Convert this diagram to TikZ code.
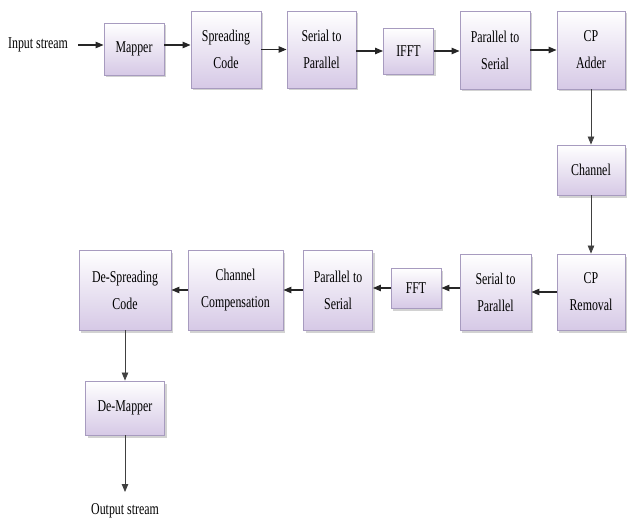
\documentclass[tikz,border=0pt]{standalone}
\usepackage{fontspec}
\setmainfont{Liberation Serif}[FakeStretch=0.72]
\usetikzlibrary{arrows.meta,shadows}
\definecolor{bordercol}{HTML}{A79BBF}
\definecolor{boxbot}{HTML}{D6C9E6}
\tikzset{
  blk/.style={draw=bordercol, line width=0.9pt, top color=white, bottom color=boxbot,
    drop shadow={shadow xshift=2pt, shadow yshift=-2.5pt, fill=black!35},
    align=center, inner sep=0pt, font=\fontsize{16.5}{27}\selectfont},
  lbl/.style={font=\fontsize{16.5}{18}\selectfont, inner sep=0pt},
  arr/.style={-{Triangle[length=8pt,width=6.5pt]}, line width=1.1pt, draw=black!85},
  varr/.style={arr, line width=0.8pt, draw=black!75}
}
\begin{document}
\begin{tikzpicture}[x=1pt,y=-1pt]
\useasboundingbox (0,0) rectangle (627,519);
\node[lbl] (in) at (38,45) {Input stream};
\node[blk, minimum width=60, minimum height=52] (map) at (134,49) {Mapper};
\node[blk, minimum width=70, minimum height=77] (spr) at (226,49.5) {Spreading\\Code};
\node[blk, minimum width=69, minimum height=77] (s2p) at (321.5,49.5) {Serial to\\Parallel};
\node[blk, minimum width=50, minimum height=46] (ifft) at (408.5,51) {IFFT};
\node[blk, minimum width=70, minimum height=78] (p2s) at (495,50) {Parallel to\\Serial};
\node[blk, minimum width=68, minimum height=78] (cpa) at (591,50) {CP\\Adder};
\node[blk, minimum width=68, minimum height=50] (ch) at (591,170) {Channel};
\node[blk, minimum width=68, minimum height=76] (cpr) at (591,292) {CP\\Removal};
\node[blk, minimum width=71, minimum height=76] (s2pb) at (495.5,292) {Serial to\\Parallel};
\node[blk, minimum width=50, minimum height=40] (fft) at (416,288) {FFT};
\node[blk, minimum width=69, minimum height=80] (p2sb) at (338,290) {Parallel to\\Serial};
\node[blk, minimum width=95, minimum height=80] (cc) at (235.5,290) {Channel\\Compensation};
\node[blk, minimum width=92, minimum height=80] (dsp) at (125,290) {De-Spreading\\Code};
\node[blk, minimum width=79, minimum height=54] (dmap) at (125,408) {De-Mapper};
\node[lbl] (out) at (125,511) {Output stream};
\coordinate (instart) at (78,45);
\coordinate (outend) at (125,492);

\draw[arr] (instart) -- (map.west |- instart);
\draw[arr] (map.east |- instart) -- (spr.west |- instart);
\draw[arr] (spr.east) -- (s2p.west);
\draw[arr] (s2p.east |- ifft.west) -- (ifft.west);
\draw[arr] (ifft.east) -- (p2s.west |- ifft.east);
\draw[arr] (p2s.east) -- (cpa.west);
\draw[varr] (cpa.south) -- (ch.north);
\draw[varr] (ch.south) -- (cpr.north);
\draw[arr] (cpr.west) -- (s2pb.east);
\draw[arr] (s2pb.west |- fft.east) -- (fft.east);
\draw[arr] (fft.west) -- (p2sb.east |- fft.west);
\draw[arr] (p2sb.west) -- (cc.east);
\draw[arr] (cc.west) -- (dsp.east);
\draw[varr] (dsp.south) -- (dmap.north);
\draw[varr] (dmap.south) -- (outend);
\end{tikzpicture}
\end{document}
